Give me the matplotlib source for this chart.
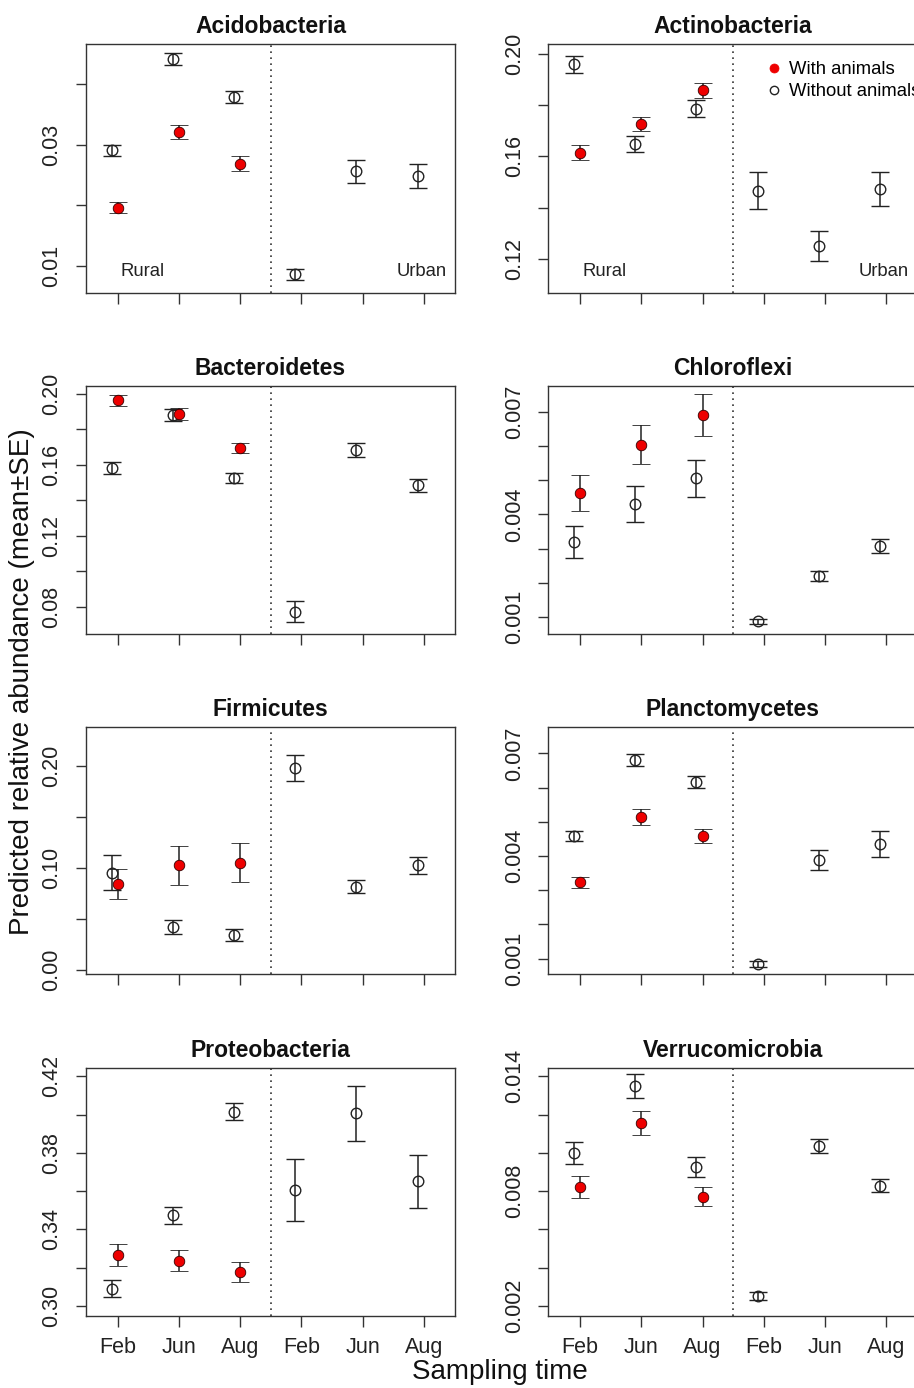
import matplotlib.pyplot as plt
from matplotlib.lines import Line2D

plt.rcParams.update({
    "font.family": ["Liberation Sans", "DejaVu Sans"],
    "axes.linewidth": 1.0,
    "axes.edgecolor": "#333333",
    "xtick.color": "#333333",
    "ytick.color": "#333333",
    "xtick.labelcolor": "#222222",
    "ytick.labelcolor": "#222222",
})

INK = "#222222"
RED = "#ee0000"

PHYLA = ["Acidobacteria", "Actinobacteria", "Bacteroidetes", "Chloroflexi",
         "Firmicutes", "Planctomycetes", "Proteobacteria", "Verrucomicrobia"]
MONTHS = ["Feb", "Jun", "Aug", "Feb", "Jun", "Aug"]

# with animals: rural sites only (Feb, Jun, Aug)
WITH_MEAN = [
    [0.0196, 0.0321, 0.0269],
    [0.1615, 0.1726, 0.1859],
    [0.1963, 0.1884, 0.1696],
    [0.00463, 0.00604, 0.0069],
    [0.0843, 0.1026, 0.1052],
    [0.00323, 0.00514, 0.00459],
    [0.3265, 0.3237, 0.3178],
    [0.00822, 0.01155, 0.0077],
]
WITH_SE = [
    [0.00096, 0.0012, 0.0012],
    [0.0029, 0.0027, 0.0030],
    [0.0032, 0.0033, 0.0029],
    [0.00052, 0.00056, 0.00062],
    [0.015, 0.0188, 0.0194],
    [0.00017, 0.00023, 0.00021],
    [0.0057, 0.0056, 0.0051],
    [0.00057, 0.00063, 0.0005],
]
# without animals: rural Feb/Jun/Aug, then urban Feb/Jun/Aug
WITHOUT_MEAN = [
    [0.0291, 0.0442, 0.0380, 0.00857, 0.0256, 0.0248],
    [0.1961, 0.1649, 0.1787, 0.1466, 0.1250, 0.1472],
    [0.1580, 0.1880, 0.1527, 0.0774, 0.1683, 0.1484],
    [0.00319, 0.00431, 0.00506, 0.000874, 0.00219, 0.00307],
    [0.0954, 0.0425, 0.0343, 0.1983, 0.0817, 0.1026],
    [0.00458, 0.0068, 0.00617, 0.000836, 0.00389, 0.00435],
    [0.3090, 0.3474, 0.4015, 0.3606, 0.4006, 0.3651],
    [0.00999, 0.01349, 0.00926, 0.0025, 0.01036, 0.00829],
]
WITHOUT_SE = [
    [0.00095, 0.00105, 0.0010, 0.00089, 0.0019, 0.0020],
    [0.0034, 0.0031, 0.0033, 0.0072, 0.0059, 0.0067],
    [0.0034, 0.0034, 0.0029, 0.0061, 0.0037, 0.0037],
    [0.00048, 0.00052, 0.00054, 0.00008, 0.00014, 0.0002],
    [0.0173, 0.007, 0.0056, 0.0126, 0.0064, 0.008],
    [0.00015, 0.00017, 0.00017, 0.00009, 0.00029, 0.00038],
    [0.0045, 0.0045, 0.0045, 0.0163, 0.0145, 0.0137],
    [0.00057, 0.00064, 0.00051, 0.00021, 0.00038, 0.00035],
]

YTICKS = [
    [0.01, 0.02, 0.03, 0.04],
    [0.12, 0.14, 0.16, 0.18, 0.20],
    [0.08, 0.10, 0.12, 0.14, 0.16, 0.18, 0.20],
    [0.001, 0.002, 0.003, 0.004, 0.005, 0.006, 0.007],
    [0.00, 0.05, 0.10, 0.15, 0.20],
    [0.001, 0.002, 0.003, 0.004, 0.005, 0.006, 0.007],
    [0.30, 0.32, 0.34, 0.36, 0.38, 0.40, 0.42],
    [0.002, 0.004, 0.006, 0.008, 0.010, 0.012, 0.014],
]
YTICKLABELS = [
    ["0.01", "", "0.03", ""],
    ["0.12", "", "0.16", "", "0.20"],
    ["0.08", "", "0.12", "", "0.16", "", "0.20"],
    ["0.001", "", "", "0.004", "", "", "0.007"],
    ["0.00", "", "0.10", "", "0.20"],
    ["0.001", "", "", "0.004", "", "", "0.007"],
    ["0.30", "", "0.34", "", "0.38", "", "0.42"],
    ["0.002", "", "", "0.008", "", "", "0.014"],
]
YLIMS = [(0.00547, 0.0467), (0.1066, 0.2040), (0.0648, 0.2043),
         (0.000503, 0.00775), (-0.0039, 0.2382), (0.000553, 0.00777),
         (0.2948, 0.4243), (0.00148, 0.01443)]

W, H = 914, 1388
COL_X = [86, 548.3]
ROW_Y = [(44, 293), (386, 634), (727, 974), (1068, 1316)]
AX_W = 369


def make_axes(fig, i):
    r, c = divmod(i, 2)
    top, bot = ROW_Y[r]
    return fig.add_axes([COL_X[c] / W, 1 - bot / H, AX_W / W, (bot - top) / H])


def main():
    fig = plt.figure(figsize=(W / 100, H / 100), dpi=100, facecolor="white")
    x = list(range(1, 7))

    for i, name in enumerate(PHYLA):
        ax = make_axes(fig, i)
        r, c = divmod(i, 2)

        ax.axvline(3.5, color="#333333", lw=1.2, ls=(0, (1, 2.6)), zorder=1)

        ax.errorbar([v - 0.1 for v in x], WITHOUT_MEAN[i], yerr=WITHOUT_SE[i],
                    fmt="o", ms=7.6, mfc="none", mec=INK, mew=1.0,
                    ecolor=INK, elinewidth=1.1, capsize=6.5, capthick=1.1,
                    zorder=3)
        ax.errorbar(x[:3], WITH_MEAN[i], yerr=WITH_SE[i],
                    fmt="o", ms=7.6, mfc=RED, mec="#330000", mew=0.6,
                    ecolor=INK, elinewidth=1.1, capsize=6.5, capthick=1.1,
                    zorder=4)

        ax.set_xlim(0.48, 6.51)
        ax.set_ylim(*YLIMS[i])
        ax.set_yticks(YTICKS[i])
        ax.set_yticklabels(YTICKLABELS[i])
        ax.set_xticks(x)
        if r == 3:
            ax.set_xticklabels(MONTHS, fontsize=15.5)
        else:
            ax.set_xticklabels([])
        ax.tick_params(axis="x", length=8, width=1.0, pad=7)
        ax.tick_params(axis="y", length=7, width=1.0, pad=10,
                       labelrotation=90, labelsize=15.5)
        for lab in ax.get_yticklabels():
            lab.set_va("center")

        ax.set_title(name, fontsize=16.5, fontweight="bold", color="#111111", pad=8)

        if r == 0:
            ax.text(0.152, 0.088, "Rural", transform=ax.transAxes, fontsize=13.3,
                    color=INK, ha="center", va="center")
            ax.text(0.909, 0.088, "Urban", transform=ax.transAxes, fontsize=13.3,
                    color=INK, ha="center", va="center")

        if i == 1:
            # legend runs off the right edge, as in the original figure
            handles = [
                Line2D([0], [0], marker="o", ls="none", ms=6.5, mfc=RED,
                       mec=RED, mew=0.5, label="With animals"),
                Line2D([0], [0], marker="o", ls="none", ms=6, mfc="none",
                       mec=INK, mew=1.0, label="Without animals"),
            ]
            ax.legend(handles=handles, loc="upper left",
                      bbox_to_anchor=(0.592, 0.93), frameon=False,
                      fontsize=13.3, borderpad=0, borderaxespad=0,
                      handlelength=0.8, handletextpad=0.4, labelspacing=0.25)

    fig.text(22 / W, 1 - 682 / H, "Predicted relative abundance (mean\u00b1SE)",
             rotation=90, ha="center", va="center", fontsize=20, color="#111111")
    fig.text(500 / W, 1 - 1372 / H, "Sampling time", ha="center", va="center",
             fontsize=20, color="#111111")

    fig.savefig("out.png", dpi=100, facecolor="white")
    plt.close(fig)


if __name__ == "__main__":
    main()
